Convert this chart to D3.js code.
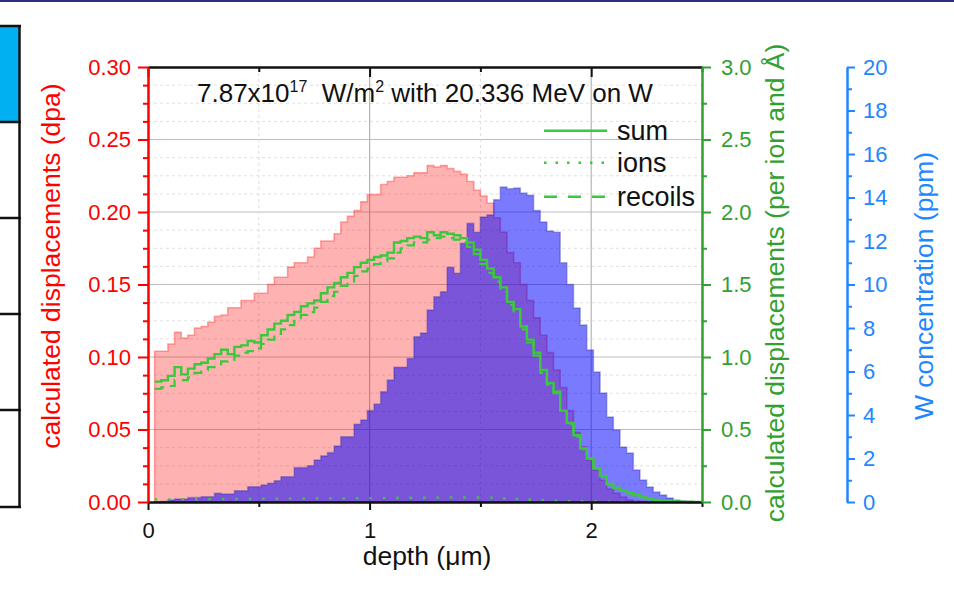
<!DOCTYPE html>
<html>
<head>
<meta charset="utf-8">
<script src="https://cdn.jsdelivr.net/npm/d3@7"></script>
<style>
  html, body { margin: 0; padding: 0; background: #fff; }
  svg { display: block; font-family: "Liberation Sans", Arial, Helvetica, sans-serif; }
</style>
</head>
<body>
<svg id="chart" width="954" height="612"></svg>
<script>
// Depth bins (left edge of each 0.03 µm bin, µm)
const depth = [
  0.03,0.06,0.09,0.12,0.15,0.18,0.21,0.24,0.27,0.30,
  0.33,0.36,0.39,0.42,0.45,0.48,0.51,0.54,0.57,0.60,
  0.63,0.66,0.69,0.72,0.75,0.78,0.81,0.84,0.87,0.90,
  0.93,0.96,0.99,1.02,1.05,1.08,1.11,1.14,1.17,1.20,
  1.23,1.26,1.29,1.32,1.35,1.38,1.41,1.44,1.47,1.50,
  1.53,1.56,1.59,1.62,1.65,1.68,1.71,1.74,1.77,1.80,
  1.83,1.86,1.89,1.92,1.95,1.98,2.01,2.04,2.07,2.10,
  2.13,2.16,2.19,2.22,2.25,2.28,2.31,2.34,2.37,2.40,
  2.43,2.46
];

// Calculated displacements (dpa), left axis
const dpa = [
  0.104,0.104,0.109,0.117,0.113,0.115,0.120,0.121,0.124,0.128,
  0.129,0.134,0.134,0.139,0.139,0.144,0.144,0.150,0.155,0.155,
  0.162,0.165,0.165,0.169,0.175,0.180,0.180,0.185,0.193,0.197,
  0.201,0.207,0.212,0.212,0.219,0.221,0.224,0.224,0.225,0.227,
  0.227,0.232,0.231,0.232,0.230,0.228,0.226,0.221,0.215,0.211,
  0.206,0.196,0.186,0.172,0.165,0.150,0.139,0.127,0.115,0.103,
  0.091,0.079,0.063,0.048,0.038,0.029,0.022,0.015,0.009,0.006,
  0.0034,0.0014,0.0007,0.0003,0.0001,0,0,0,0,0,
  0,0
];

// W concentration (ppm), far right axis
const wConc = [
  0.01,0.02,0.09,0.14,0.14,0.20,0.20,0.24,0.24,0.40,
  0.37,0.37,0.52,0.52,0.70,0.70,0.78,0.86,0.98,1.16,
  1.16,1.58,1.58,1.67,1.93,2.12,2.27,2.57,3.00,3.00,
  3.57,3.77,4.20,4.50,5.07,5.61,6.19,6.19,6.60,7.60,
  7.77,8.83,9.44,9.67,10.79,10.52,11.90,12.81,12.40,13.10,
  13.20,13.90,14.48,14.40,14.44,14.20,14.10,13.40,12.87,12.46,
  12.40,11.00,10.00,8.92,8.14,6.99,5.98,5.01,3.91,3.31,
  2.53,2.25,1.47,1.01,0.69,0.46,0.32,0.18,0.09,0.05,
  0.02,0.01
];

// Displacements per ion and Å, right axis
const dispSum = [
  0.83,0.84,0.87,0.93,0.88,0.92,0.95,0.96,0.99,1.02,
  1.05,1.02,1.07,1.08,1.11,1.10,1.15,1.19,1.23,1.25,
  1.29,1.31,1.35,1.37,1.39,1.44,1.48,1.51,1.55,1.58,
  1.62,1.65,1.67,1.69,1.70,1.72,1.79,1.80,1.82,1.83,
  1.82,1.86,1.84,1.86,1.85,1.84,1.82,1.79,1.74,1.67,
  1.61,1.55,1.48,1.38,1.33,1.21,1.12,1.03,0.91,0.82,
  0.76,0.63,0.545,0.46,0.37,0.30,0.23,0.18,0.124,0.097,
  0.080,0.062,0.048,0.034,0.022,0.014,0.008,0.004,0.002,0.001,
  0.0005,0
];

const dispIons = [
  0.018,0.018,0.018,0.019,0.019,0.019,0.019,0.020,0.020,0.020,
  0.020,0.021,0.021,0.021,0.021,0.022,0.022,0.022,0.022,0.023,
  0.023,0.023,0.023,0.024,0.024,0.024,0.025,0.025,0.025,0.026,
  0.026,0.026,0.027,0.027,0.027,0.028,0.028,0.028,0.029,0.029,
  0.029,0.030,0.030,0.030,0.031,0.031,0.031,0.031,0.031,0.031,
  0.030,0.028,0.025,0.022,0.020,0.018,0.016,0.014,0.012,0.010,
  0.009,0.008,0.007,0.006,0.005,0.004,0.003,0.002,0.002,0.001,
  0.001,0.001,0,0,0,0,0,0,0,0,
  0,0
];

const dispRecoils = [
  0.78,0.79,0.80,0.84,0.84,0.86,0.89,0.91,0.93,0.95,
  0.97,0.98,1.01,1.03,1.04,1.06,1.09,1.12,1.16,1.19,
  1.22,1.25,1.29,1.31,1.34,1.38,1.42,1.45,1.49,1.52,
  1.56,1.59,1.61,1.64,1.66,1.68,1.72,1.75,1.77,1.79,
  1.79,1.81,1.82,1.83,1.82,1.81,1.79,1.76,1.71,1.64,
  1.58,1.52,1.45,1.36,1.30,1.19,1.10,1.01,0.89,0.81,
  0.75,0.62,0.535,0.45,0.365,0.295,0.226,0.177,0.122,0.095,
  0.079,0.061,0.047,0.033,0.021,0.013,0.007,0.004,0.002,0.001,
  0.0005,0
];

// Axis ticks
const depthTicks = [0, 1, 2];
const depthMinor = [0.5, 1.5, 2.5];
const dpaTicks = [0, 0.05, 0.10, 0.15, 0.20, 0.25, 0.30];
const dispTicks = [0, 0.5, 1.0, 1.5, 2.0, 2.5, 3.0];
const wTicks = [0, 2, 4, 6, 8, 10, 12, 14, 16, 18, 20];
const legendLabels = ["sum", "ions", "recoils"];

// ---------------------------------------------------------------
const svg = d3.select("#chart");
const L = 148, R = 702, T = 67, B = 502;

const x  = d3.scaleLinear().domain([0, 2.5]).range([L, R]);
const yL = d3.scaleLinear().domain([0, 0.30]).range([B, T]);
const yR = d3.scaleLinear().domain([0, 3.0]).range([B, T]);
const yW = d3.scaleLinear().domain([0, 20]).range([B, T]);

const RED = "#ff0000", GREEN_AX = "#30a030", BLUE_AX = "#1e86ff", LINE_G = "#3cc83c";

// Page furniture: top rule and table edge at the left
svg.append("rect").attr("x", 0).attr("y", 0).attr("width", 954).attr("height", 2).attr("fill", "#2d2b7f");
svg.append("rect").attr("x", 0).attr("y", 27).attr("width", 19).attr("height", 95).attr("fill", "#00b0f0");
svg.append("line").attr("x1", 19.5).attr("x2", 19.5).attr("y1", 25).attr("y2", 508)
  .attr("stroke", "#111").attr("stroke-width", 2.5);
[26, 122, 218, 314, 410, 507].forEach(yy => {
  svg.append("line").attr("x1", 0).attr("x2", 21).attr("y1", yy).attr("y2", yy)
    .attr("stroke", "#111").attr("stroke-width", 2.5);
});

// Grid
const grid = svg.append("g");
const dpaMinor = d3.range(0, 0.3001, 0.0125).filter(v => Math.abs(v / 0.05 - Math.round(v / 0.05)) > 1e-6);
dpaMinor.forEach(v => grid.append("line").attr("x1", L).attr("x2", R).attr("y1", yL(v)).attr("y2", yL(v))
  .attr("stroke", "#e0e0e0").attr("stroke-width", 1).attr("stroke-dasharray", "3,3"));
[0.05, 0.10, 0.15, 0.20, 0.25].forEach(v => grid.append("line").attr("x1", L).attr("x2", R)
  .attr("y1", yL(v)).attr("y2", yL(v)).attr("stroke", "#bdbdbd").attr("stroke-width", 1.2));
[0.5, 1.5].forEach(v => grid.append("line").attr("x1", x(v)).attr("x2", x(v)).attr("y1", T).attr("y2", B)
  .attr("stroke", "#dcdcdc").attr("stroke-width", 1).attr("stroke-dasharray", "3,3"));
[1, 2].forEach(v => grid.append("line").attr("x1", x(v)).attr("x2", x(v)).attr("y1", T).attr("y2", B)
  .attr("stroke", "#b4b4b4").attr("stroke-width", 1.2));

// Step-histogram helpers
const n = depth.length;
const binW = depth[1] - depth[0];
const stepPts = vals => depth.map((d, i) => [d, vals[i]]).concat([[depth[n - 1] + binW, vals[n - 1]]]);

const areaOf = yS => d3.area().x(d => x(d[0])).y0(yS(0)).y1(d => yS(d[1])).curve(d3.curveStepAfter);
const lineOf = yS => d3.line().x(d => x(d[0])).y(d => yS(d[1])).curve(d3.curveStepAfter);

// dpa histogram (translucent red)
svg.append("path").attr("d", areaOf(yL)(stepPts(dpa)))
  .attr("fill", "rgba(255,0,0,0.30)").attr("stroke", "rgba(255,60,60,0.45)").attr("stroke-width", 1.6);

// W concentration histogram (translucent blue)
svg.append("path").attr("d", areaOf(yW)(stepPts(wConc)))
  .attr("fill", "rgba(0,0,255,0.52)").attr("stroke", "rgba(40,40,170,0.35)").attr("stroke-width", 1.6);

// Displacement lines
svg.append("path").attr("d", lineOf(yR)(stepPts(dispIons))).attr("fill", "none")
  .attr("stroke", LINE_G).attr("stroke-width", 2.4).attr("stroke-dasharray", "2.5,11");
svg.append("path").attr("d", lineOf(yR)(stepPts(dispRecoils))).attr("fill", "none")
  .attr("stroke", LINE_G).attr("stroke-width", 2.2).attr("stroke-dasharray", "11,7");
svg.append("path").attr("d", lineOf(yR)(stepPts(dispSum))).attr("fill", "none")
  .attr("stroke", LINE_G).attr("stroke-width", 2.4);

// Axes
function styleAxis(g, color, fs, width) {
  g.selectAll("path.domain").attr("stroke", color).attr("stroke-width", width);
  g.selectAll(".tick line").attr("stroke", color).attr("stroke-width", width);
  g.selectAll(".tick text").attr("fill", color).attr("font-size", fs)
    .attr("font-family", '"Liberation Sans", Arial, sans-serif');
}

// top frame (ticks pointing inward)
const gTop = svg.append("g").attr("transform", `translate(0,${T})`);
gTop.call(d3.axisTop(x).tickValues(depthMinor).tickSize(-5).tickSizeOuter(0).tickFormat(""));
styleAxis(gTop, "#111", 22, 2);
const gTop2 = svg.append("g").attr("transform", `translate(0,${T})`);
gTop2.call(d3.axisTop(x).tickValues(depthTicks).tickSize(-10).tickSizeOuter(0).tickFormat(""));
styleAxis(gTop2, "#111", 22, 2);

// bottom depth axis
const gBot = svg.append("g").attr("transform", `translate(0,${B})`);
gBot.call(d3.axisBottom(x).tickValues(depthTicks).tickSize(8).tickPadding(12).tickSizeOuter(0).tickFormat(d3.format("d")));
styleAxis(gBot, "#111", 22, 2);
gBot.selectAll(".tick text").attr("fill", "#111");
const gBotMinor = svg.append("g").attr("transform", `translate(0,${B})`);
gBotMinor.call(d3.axisBottom(x).tickValues(depthMinor).tickSize(5).tickSizeOuter(0).tickFormat(""));
styleAxis(gBotMinor, "#111", 22, 2);

// left dpa axis
const gL = svg.append("g").attr("transform", `translate(${L},0)`);
gL.call(d3.axisLeft(yL).tickValues(dpaMinor).tickSize(5).tickSizeOuter(0).tickFormat(""));
styleAxis(gL, RED, 22, 2);
const gL2 = svg.append("g").attr("transform", `translate(${L},0)`);
gL2.call(d3.axisLeft(yL).tickValues(dpaTicks).tickSize(10).tickPadding(7).tickSizeOuter(0).tickFormat(d3.format(".2f")));
styleAxis(gL2, RED, 22, 2);

// right displacement axis
const dispMinor = [0.25, 0.75, 1.25, 1.75, 2.25, 2.75];
const gR = svg.append("g").attr("transform", `translate(${R},0)`);
gR.call(d3.axisRight(yR).tickValues(dispMinor).tickSize(5).tickSizeOuter(0).tickFormat(""));
styleAxis(gR, GREEN_AX, 22, 2);
const gR2 = svg.append("g").attr("transform", `translate(${R},0)`);
gR2.call(d3.axisRight(yR).tickValues(dispTicks).tickSize(9).tickPadding(10).tickSizeOuter(0).tickFormat(d3.format(".1f")));
styleAxis(gR2, GREEN_AX, 22, 2);

// W concentration axis
const WX = 847;
const wMinor = [1, 3, 5, 7, 9, 11, 13, 15, 17, 19];
const gW = svg.append("g").attr("transform", `translate(${WX},0)`);
gW.call(d3.axisRight(yW).tickValues(wMinor).tickSize(5).tickSizeOuter(0).tickFormat(""));
styleAxis(gW, BLUE_AX, 22, 2);
const gW2 = svg.append("g").attr("transform", `translate(${WX},0)`);
gW2.call(d3.axisRight(yW).tickValues(wTicks).tickSize(8).tickPadding(8).tickSizeOuter(0).tickFormat(d3.format("d")));
styleAxis(gW2, BLUE_AX, 22, 2);

// Axis titles
svg.append("text").attr("transform", "translate(60,266) rotate(-90)").attr("text-anchor", "middle")
  .attr("font-size", 26.5).attr("fill", RED).text("calculated displacements (dpa)");
svg.append("text").attr("transform", "translate(784,283) rotate(-90)").attr("text-anchor", "middle")
  .attr("font-size", 26.5).attr("fill", GREEN_AX).text("calculated displacements (per ion and Å)");
svg.append("text").attr("transform", "translate(933,286) rotate(-90)").attr("text-anchor", "middle")
  .attr("font-size", 26.5).attr("fill", BLUE_AX).text("W concentration (ppm)");
svg.append("text").attr("x", 427).attr("y", 565).attr("text-anchor", "middle")
  .attr("font-size", 26.5).attr("fill", "#111").text("depth (μm)");

// Title inside the frame
const title = svg.append("text").attr("x", 197).attr("y", 102).attr("font-size", 26)
  .attr("fill", "#111").style("white-space", "pre");
title.append("tspan").text("7.87x10");
title.append("tspan").attr("dy", -10).attr("font-size", 16).text("17");
title.append("tspan").attr("dy", 10).text("  W/m");
title.append("tspan").attr("dy", -10).attr("font-size", 16).text("2");
title.append("tspan").attr("dy", 10).text(" with 20.336 MeV on W");

// Legend
const legendDash = [null, "2.5,9", "13,11"];
const legendY = [130.7, 162.7, 196.7];
legendLabels.forEach((lab, i) => {
  const ln = svg.append("line").attr("x1", 544).attr("x2", 607).attr("y1", legendY[i]).attr("y2", legendY[i])
    .attr("stroke", LINE_G).attr("stroke-width", 2.4);
  if (legendDash[i]) ln.attr("stroke-dasharray", legendDash[i]);
  svg.append("text").attr("x", 617).attr("y", legendY[i] + 9.5).attr("font-size", 27)
    .attr("fill", "#111").text(lab);
});
</script>
</body>
</html>
